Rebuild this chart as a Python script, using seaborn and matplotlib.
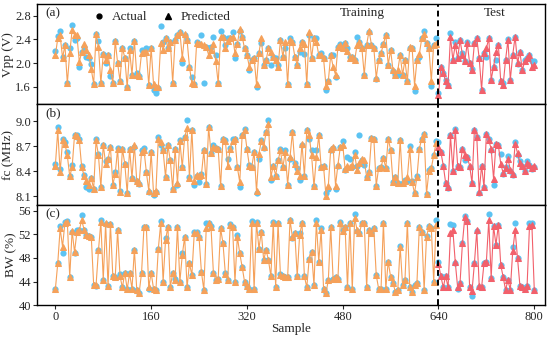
import numpy as np
import pandas as pd
import seaborn as sns
import matplotlib.pyplot as plt

# sampled every 4th point: training 0..636, test 640..800
train_x = np.arange(0, 640, 4)
test_x = np.arange(640, 801, 4)

vpp_train_actual = [
    2.21, 2.46, 2.54, 2.11, 2.30, 1.66, 2.26, 2.64, 2.39, 2.42,
    1.94, 2.19, 2.28, 2.11, 2.08, 1.98, 1.64, 2.50, 2.38, 1.66,
    2.15, 2.00, 2.14, 1.79, 1.66, 2.38, 2.00, 1.70, 2.26, 2.09,
    1.59, 2.26, 1.80, 2.38, 1.83, 1.79, 2.22, 2.19, 2.25, 1.63,
    2.26, 1.54, 1.50, 1.57, 2.62, 2.35, 2.42, 2.26, 2.36, 1.67,
    2.39, 2.47, 2.53, 2.00, 2.47, 2.39, 1.94, 1.77, 1.64, 2.35,
    2.32, 2.48, 1.66, 2.28, 2.25, 2.28, 2.45, 2.14, 1.66, 2.55,
    2.45, 2.31, 2.42, 2.42, 2.52, 2.09, 2.32, 2.55, 2.45, 2.25,
    2.14, 1.88, 2.05, 2.08, 1.59, 2.17, 2.34, 1.97, 2.05, 2.25,
    1.97, 2.11, 2.09, 1.97, 2.39, 2.11, 2.26, 1.64, 2.43, 2.36,
    2.11, 1.97, 2.19, 2.36, 2.15, 1.64, 2.48, 2.08, 2.43, 2.42,
    2.14, 2.17, 2.08, 1.54, 1.70, 2.13, 2.14, 1.77, 2.28, 2.32,
    2.25, 2.34, 2.25, 2.11, 2.11, 2.05, 2.45, 2.35, 2.26, 1.80,
    2.31, 2.53, 2.31, 2.25, 1.73, 2.05, 2.17, 2.32, 2.47, 1.97,
    2.22, 1.86, 1.80, 1.80, 2.14, 1.80, 2.05, 1.69, 2.26, 2.25,
    1.52, 2.05, 2.11, 2.42, 2.55, 2.34, 2.25, 1.62, 2.31, 2.42,
]
vpp_train_pred = [
    2.13, 2.42, 2.47, 2.09, 2.30, 1.66, 2.17, 2.56, 2.48, 2.47,
    2.02, 2.19, 2.32, 2.22, 2.14, 1.90, 1.65, 2.49, 2.28, 1.66,
    2.15, 2.05, 2.14, 1.88, 1.66, 2.38, 2.00, 1.70, 2.26, 2.09,
    1.59, 2.22, 1.80, 2.38, 1.80, 1.79, 2.17, 2.19, 2.19, 1.63,
    2.26, 1.64, 1.59, 1.60, 2.34, 2.22, 2.42, 2.25, 2.36, 1.67,
    2.39, 2.47, 2.53, 2.08, 2.49, 2.39, 1.94, 1.66, 1.64, 2.34,
    2.32, 2.32, 2.31, 2.28, 2.14, 2.22, 2.32, 2.03, 1.66, 2.45,
    2.45, 2.25, 2.38, 2.42, 2.45, 2.17, 2.32, 2.58, 2.45, 2.25,
    2.14, 1.94, 2.05, 2.08, 1.64, 2.17, 2.42, 1.97, 2.05, 2.25,
    2.19, 2.11, 2.05, 1.94, 2.39, 2.11, 2.36, 1.64, 2.39, 2.36,
    2.11, 1.97, 2.25, 2.36, 2.32, 1.64, 2.53, 2.08, 2.42, 2.36,
    2.14, 2.14, 2.08, 1.62, 1.70, 2.14, 1.94, 1.80, 2.28, 2.31,
    2.25, 2.34, 2.20, 2.08, 2.11, 2.05, 2.31, 2.35, 2.25, 1.80,
    2.31, 2.55, 2.31, 2.25, 1.75, 2.05, 2.17, 2.32, 2.48, 1.97,
    2.22, 1.88, 1.80, 1.88, 2.14, 1.80, 2.05, 1.69, 2.28, 2.25,
    1.62, 2.05, 2.15, 2.42, 2.50, 2.34, 2.25, 1.70, 2.31, 2.32,
]
vpp_test_actual = [
    1.50, 1.94, 1.83, 1.72, 1.63, 2.51, 2.05, 2.36, 2.08, 2.39,
    2.17, 2.03, 2.36, 2.00, 1.90, 2.34, 2.42, 2.08, 1.55, 2.17,
    2.11, 2.42, 1.72, 1.94, 2.05, 2.31, 1.69, 1.66, 2.05, 2.40,
    1.72, 2.14, 2.45, 1.99, 2.19, 1.88, 2.05, 2.08, 2.14, 2.03, 2.03,
]
vpp_test_pred = [
    1.46, 1.94, 1.83, 1.69, 1.63, 2.45, 2.05, 2.31, 2.08, 2.39,
    2.14, 2.03, 2.34, 2.00, 1.88, 2.34, 2.42, 2.08, 1.55, 2.17,
    2.25, 2.42, 1.72, 1.94, 2.19, 2.31, 1.69, 1.63, 2.05, 2.39,
    1.72, 2.14, 2.45, 2.00, 2.19, 1.88, 2.03, 2.08, 2.14, 1.94, 1.97,
]

fc_train_actual = [
    8.49, 8.93, 8.43, 8.79, 8.75, 8.63, 8.35, 8.48, 8.84, 8.84,
    8.79, 8.46, 8.36, 8.21, 8.19, 8.32, 8.19, 8.79, 8.61, 8.21,
    8.72, 8.52, 8.55, 8.69, 8.24, 8.39, 8.68, 8.17, 8.67, 8.49,
    8.14, 8.67, 8.32, 8.69, 8.28, 8.25, 8.65, 8.68, 8.39, 8.15,
    8.63, 8.12, 8.15, 8.81, 8.71, 8.65, 8.33, 8.72, 8.53, 8.19,
    8.67, 8.24, 8.77, 8.45, 8.81, 9.01, 8.33, 8.90, 8.24, 8.35,
    8.27, 8.37, 8.65, 8.25, 8.93, 8.62, 8.71, 8.68, 8.67, 8.22,
    8.79, 8.77, 8.55, 8.68, 8.79, 8.79, 8.45, 8.21, 8.84, 8.91,
    8.67, 8.48, 8.45, 8.63, 8.14, 8.55, 8.77, 8.68, 8.87, 9.01,
    8.30, 8.47, 8.35, 8.53, 8.67, 8.45, 8.65, 8.24, 8.55, 8.87,
    8.50, 8.44, 8.30, 8.71, 8.35, 8.90, 8.79, 8.65, 8.23, 8.65,
    8.84, 8.45, 8.46, 8.14, 8.19, 8.66, 8.68, 8.19, 8.47, 8.69,
    8.76, 8.42, 8.57, 8.55, 8.45, 8.63, 8.47, 8.84, 8.53, 8.48,
    8.33, 8.39, 8.80, 8.79, 8.23, 8.44, 8.45, 8.56, 8.44, 8.79,
    8.66, 8.27, 8.33, 8.26, 8.77, 8.26, 8.30, 8.29, 8.70, 8.29,
    8.14, 8.34, 8.67, 8.79, 8.85, 8.13, 8.42, 8.44, 8.59, 8.76,
]
fc_train_pred = [
    8.47, 8.89, 8.39, 8.77, 8.73, 8.59, 8.34, 8.45, 8.83, 8.82,
    8.77, 8.45, 8.35, 8.28, 8.24, 8.32, 8.19, 8.77, 8.59, 8.21,
    8.72, 8.49, 8.55, 8.69, 8.24, 8.37, 8.67, 8.15, 8.67, 8.49,
    8.14, 8.67, 8.32, 8.72, 8.28, 8.26, 8.63, 8.66, 8.39, 8.17,
    8.63, 8.14, 8.17, 8.79, 8.75, 8.65, 8.33, 8.71, 8.53, 8.19,
    8.67, 8.26, 8.76, 8.45, 8.81, 8.92, 8.32, 8.90, 8.29, 8.36,
    8.35, 8.36, 8.65, 8.25, 8.93, 8.62, 8.69, 8.68, 8.67, 8.22,
    8.79, 8.76, 8.46, 8.67, 8.76, 8.79, 8.45, 8.27, 8.83, 8.90,
    8.67, 8.47, 8.45, 8.63, 8.16, 8.61, 8.76, 8.69, 8.87, 8.97,
    8.33, 8.47, 8.35, 8.53, 8.65, 8.45, 8.63, 8.24, 8.57, 8.87,
    8.49, 8.41, 8.35, 8.73, 8.35, 8.89, 8.83, 8.59, 8.22, 8.57,
    8.83, 8.45, 8.46, 8.11, 8.23, 8.67, 8.69, 8.23, 8.48, 8.69,
    8.72, 8.43, 8.47, 8.45, 8.48, 8.60, 8.42, 8.50, 8.55, 8.53,
    8.33, 8.39, 8.80, 8.79, 8.23, 8.44, 8.45, 8.56, 8.44, 8.79,
    8.66, 8.27, 8.33, 8.26, 8.77, 8.26, 8.29, 8.33, 8.67, 8.27,
    8.14, 8.33, 8.67, 8.79, 8.85, 8.13, 8.40, 8.44, 8.59, 8.74,
]
fc_test_actual = [
    8.75, 8.63, 8.47, 8.26, 8.20, 8.84, 8.41, 8.91, 8.47, 8.45,
    8.67, 8.54, 8.57, 8.45, 8.26, 8.89, 8.81, 8.14, 8.46, 8.21,
    8.85, 8.79, 8.65, 8.24, 8.73, 8.72, 8.61, 8.37, 8.45, 8.58,
    8.40, 8.36, 8.75, 8.60, 8.52, 8.47, 8.41, 8.52, 8.48, 8.43, 8.45,
]
fc_test_pred = [
    8.69, 8.63, 8.47, 8.26, 8.21, 8.83, 8.41, 8.90, 8.47, 8.45,
    8.67, 8.59, 8.57, 8.47, 8.26, 8.90, 8.81, 8.15, 8.47, 8.21,
    8.85, 8.77, 8.67, 8.31, 8.73, 8.71, 8.49, 8.38, 8.44, 8.55,
    8.42, 8.37, 8.73, 8.62, 8.50, 8.47, 8.40, 8.50, 8.48, 8.44, 8.46,
]

bw_train_actual = [
    42.8, 47.2, 53.4, 48.9, 54.1, 54.3, 44.8, 52.4, 48.9, 52.7,
    52.7, 55.3, 52.8, 51.9, 51.7, 51.6, 43.4, 43.2, 49.3, 54.4,
    44.3, 53.8, 43.2, 53.8, 44.9, 44.7, 52.7, 45.3, 43.0, 45.5,
    42.7, 45.5, 42.8, 49.4, 42.6, 42.0, 45.5, 53.3, 53.3, 42.8,
    45.5, 42.8, 42.6, 49.6, 54.3, 44.0, 51.3, 53.3, 43.1, 45.5,
    44.4, 53.3, 44.0, 48.8, 51.6, 43.0, 47.1, 45.1, 52.4, 52.4,
    51.5, 45.6, 42.6, 54.0, 53.9, 53.4, 45.5, 44.3, 44.5, 53.0,
    50.5, 45.4, 44.3, 53.8, 53.3, 44.0, 51.9, 48.9, 46.5, 44.0,
    43.2, 42.8, 54.3, 42.8, 54.1, 49.6, 52.4, 47.6, 49.4,
    47.6, 44.9, 54.1, 43.0, 53.9, 45.3, 44.9, 44.8, 44.7, 54.5,
    51.4, 52.2, 44.9, 52.2, 53.9, 44.9, 43.0, 47.9, 49.0, 43.4,
    54.4, 47.4, 53.0, 42.8, 42.0, 44.3, 53.3, 44.5, 44.8, 44.4,
    54.1, 52.7, 53.2, 43.0, 54.0, 42.7, 55.4, 52.6, 52.2, 54.0,
    54.0, 43.0, 52.8, 52.3, 53.0, 45.1, 42.8, 42.7, 54.0, 42.8,
    47.4, 44.8, 43.7, 42.3, 42.6, 50.0, 43.4, 44.3, 54.0, 43.1,
    42.3, 43.4, 43.8, 53.3, 52.4, 42.6, 51.7, 53.4, 53.0, 44.0, 54.5,
]
bw_train_pred = [
    42.7, 47.1, 53.0, 49.9, 54.0, 54.1, 44.8, 52.6, 49.0, 52.4,
    52.7, 54.4, 52.8, 51.9, 51.7, 51.6, 43.4, 43.4, 49.3, 54.1,
    44.3, 53.9, 43.2, 53.8, 44.9, 44.7, 52.7, 44.9, 43.0, 45.5,
    42.7, 45.4, 42.8, 49.4, 42.6, 42.1, 45.5, 53.2, 53.2, 43.0,
    45.5, 42.8, 42.6, 49.6, 53.9, 44.0, 51.0, 53.3, 43.1, 45.4,
    44.3, 53.3, 44.0, 48.5, 51.6, 43.0, 47.1, 45.1, 52.2, 52.3,
    51.5, 45.6, 42.6, 53.0, 53.9, 53.2, 45.5, 44.3, 44.5, 53.0,
    50.5, 45.3, 44.3, 53.6, 53.3, 44.0, 51.6, 48.8, 46.5, 44.0,
    43.2, 42.8, 54.0, 42.8, 54.0, 49.6, 52.4, 47.6, 49.4,
    47.6, 44.9, 54.0, 43.1, 53.9, 45.1, 44.9, 44.8, 44.7, 54.4,
    51.5, 52.2, 44.9, 51.9, 53.9, 44.9, 43.0, 47.9, 49.0, 43.4,
    54.0, 47.4, 52.8, 42.8, 42.0, 44.3, 53.3, 44.4, 44.7, 44.4,
    54.0, 52.6, 53.2, 43.0, 54.0, 42.7, 54.8, 52.7, 52.2, 54.0,
    54.0, 43.0, 52.8, 52.3, 53.0, 45.1, 42.8, 42.7, 54.0, 42.8,
    47.4, 44.8, 43.7, 42.3, 42.6, 49.9, 43.4, 44.3, 54.0, 43.1,
    42.3, 43.4, 43.8, 53.3, 52.4, 42.6, 51.6, 53.4, 53.0, 44.0, 53.6,
]
bw_test_actual = [
    47.4, 44.9, 43.0, 45.0, 43.0, 53.8, 53.6, 47.2, 42.8, 43.8,
    50.5, 55.1, 54.2, 43.0, 41.5, 47.1, 52.6, 43.1, 43.0, 47.1,
    47.4, 55.4, 44.6, 53.4, 50.2, 53.6, 46.8, 44.8, 42.6, 44.2,
    42.6, 49.8, 53.9, 48.0, 43.3, 43.0, 42.7, 43.3, 54.0, 54.0, 42.6,
]
bw_test_pred = [
    47.0, 44.9, 43.0, 45.0, 43.0, 52.2, 52.7, 47.3, 43.0, 43.8,
    50.5, 55.0, 54.2, 43.0, 42.4, 47.1, 52.7, 43.3, 43.0, 47.1,
    47.4, 54.4, 44.6, 53.4, 50.2, 53.6, 46.8, 44.8, 42.6, 44.2,
    42.6, 49.2, 52.7, 48.0, 43.3, 43.0, 42.7, 43.3, 53.4, 53.6, 42.6,
]

panels = [
    ("Vpp (V)", "(a)", vpp_train_actual, vpp_train_pred, vpp_test_actual, vpp_test_pred,
     (1.3, 3.0), [1.6, 2.0, 2.4, 2.8], "{:.1f}"),
    ("fc (MHz)", "(b)", fc_train_actual, fc_train_pred, fc_test_actual, fc_test_pred,
     (8.0, 9.2), [8.1, 8.4, 8.7, 9.0], "{:.1f}"),
    ("BW (%)", "(c)", bw_train_actual, bw_train_pred, bw_test_actual, bw_test_pred,
     (40, 57), [40, 44, 48, 52, 56], "{:.0f}"),
]

sns.set_style("ticks")
plt.rcParams['font.family'] = ['Liberation Serif', 'DejaVu Serif']
plt.rcParams['font.size'] = 9

blue = "#5CC3F2"
orange = "#F5A15A"
red = "#F2606B"

fig, axes = plt.subplots(3, 1, figsize=(5.5, 3.38), dpi=100)
fig.subplots_adjust(left=0.068, right=0.991, top=0.988, bottom=0.097, hspace=0)

for ax, (ylab, tag, ta, tp, sa, sp, ylim, yt, fmt) in zip(axes, panels):
    tr = pd.DataFrame({"x": train_x, "actual": ta, "pred": tp})
    te = pd.DataFrame({"x": test_x, "actual": sa, "pred": sp})

    sns.scatterplot(data=tr, x="x", y="actual", ax=ax, color=blue, s=20,
                    linewidth=0, zorder=2)
    sns.scatterplot(data=te, x="x", y="actual", ax=ax, color=blue, s=20,
                    linewidth=0, zorder=2)
    sns.lineplot(data=tr, x="x", y="pred", ax=ax, color=orange, lw=0.8,
                 marker="^", ms=4.5, mec=orange, mfc=orange, zorder=3)
    sns.lineplot(data=te, x="x", y="pred", ax=ax, color=red, lw=0.8,
                 marker="^", ms=4.5, mec=red, mfc=red, zorder=3)

    ax.axvline(640, color="black", ls=(0, (3, 2)), lw=1.4, zorder=4)
    ax.set_xlim(-30, 818)
    ax.set_ylim(*ylim)
    ax.set_yticks(yt)
    ax.set_yticklabels([fmt.format(v) for v in yt])
    ax.set_ylabel(ylab, fontsize=9.5, labelpad=1)
    ax.set_xlabel("")
    ax.text(0.015, 0.97, tag, transform=ax.transAxes, ha="left", va="top", fontsize=9.5)
    ax.tick_params(direction="out", length=3, width=0.8, labelsize=9, pad=1.5)
    for sp_ in ax.spines.values():
        sp_.set_visible(True)
        sp_.set_linewidth(1.0)
        sp_.set_color("black")

for ax in axes[:2]:
    ax.set_xticks(np.arange(0, 801, 100))
    ax.set_xticklabels([])

axes[2].set_xticks(np.arange(0, 801, 160))
axes[2].set_xlabel("Sample", fontsize=9.5, labelpad=0)

ax = axes[0]
ax.text(0.64, 0.97, "Training", transform=ax.transAxes, ha="center", va="top", fontsize=9.5)
ax.text(0.90, 0.97, "Test", transform=ax.transAxes, ha="center", va="top", fontsize=9.5)
handles = [
    plt.Line2D([], [], ls="none", marker="o", color="black", ms=3.5),
    plt.Line2D([], [], ls="none", marker="^", color="black", ms=4),
]
ax.legend(handles, ["Actual", "Predicted"], loc="upper left", bbox_to_anchor=(0.085, 1.05),
          ncol=2, frameon=False, fontsize=9.5, handletextpad=0.5, columnspacing=1.0,
          handlelength=1.0)

fig.savefig("out.png", dpi=100)
